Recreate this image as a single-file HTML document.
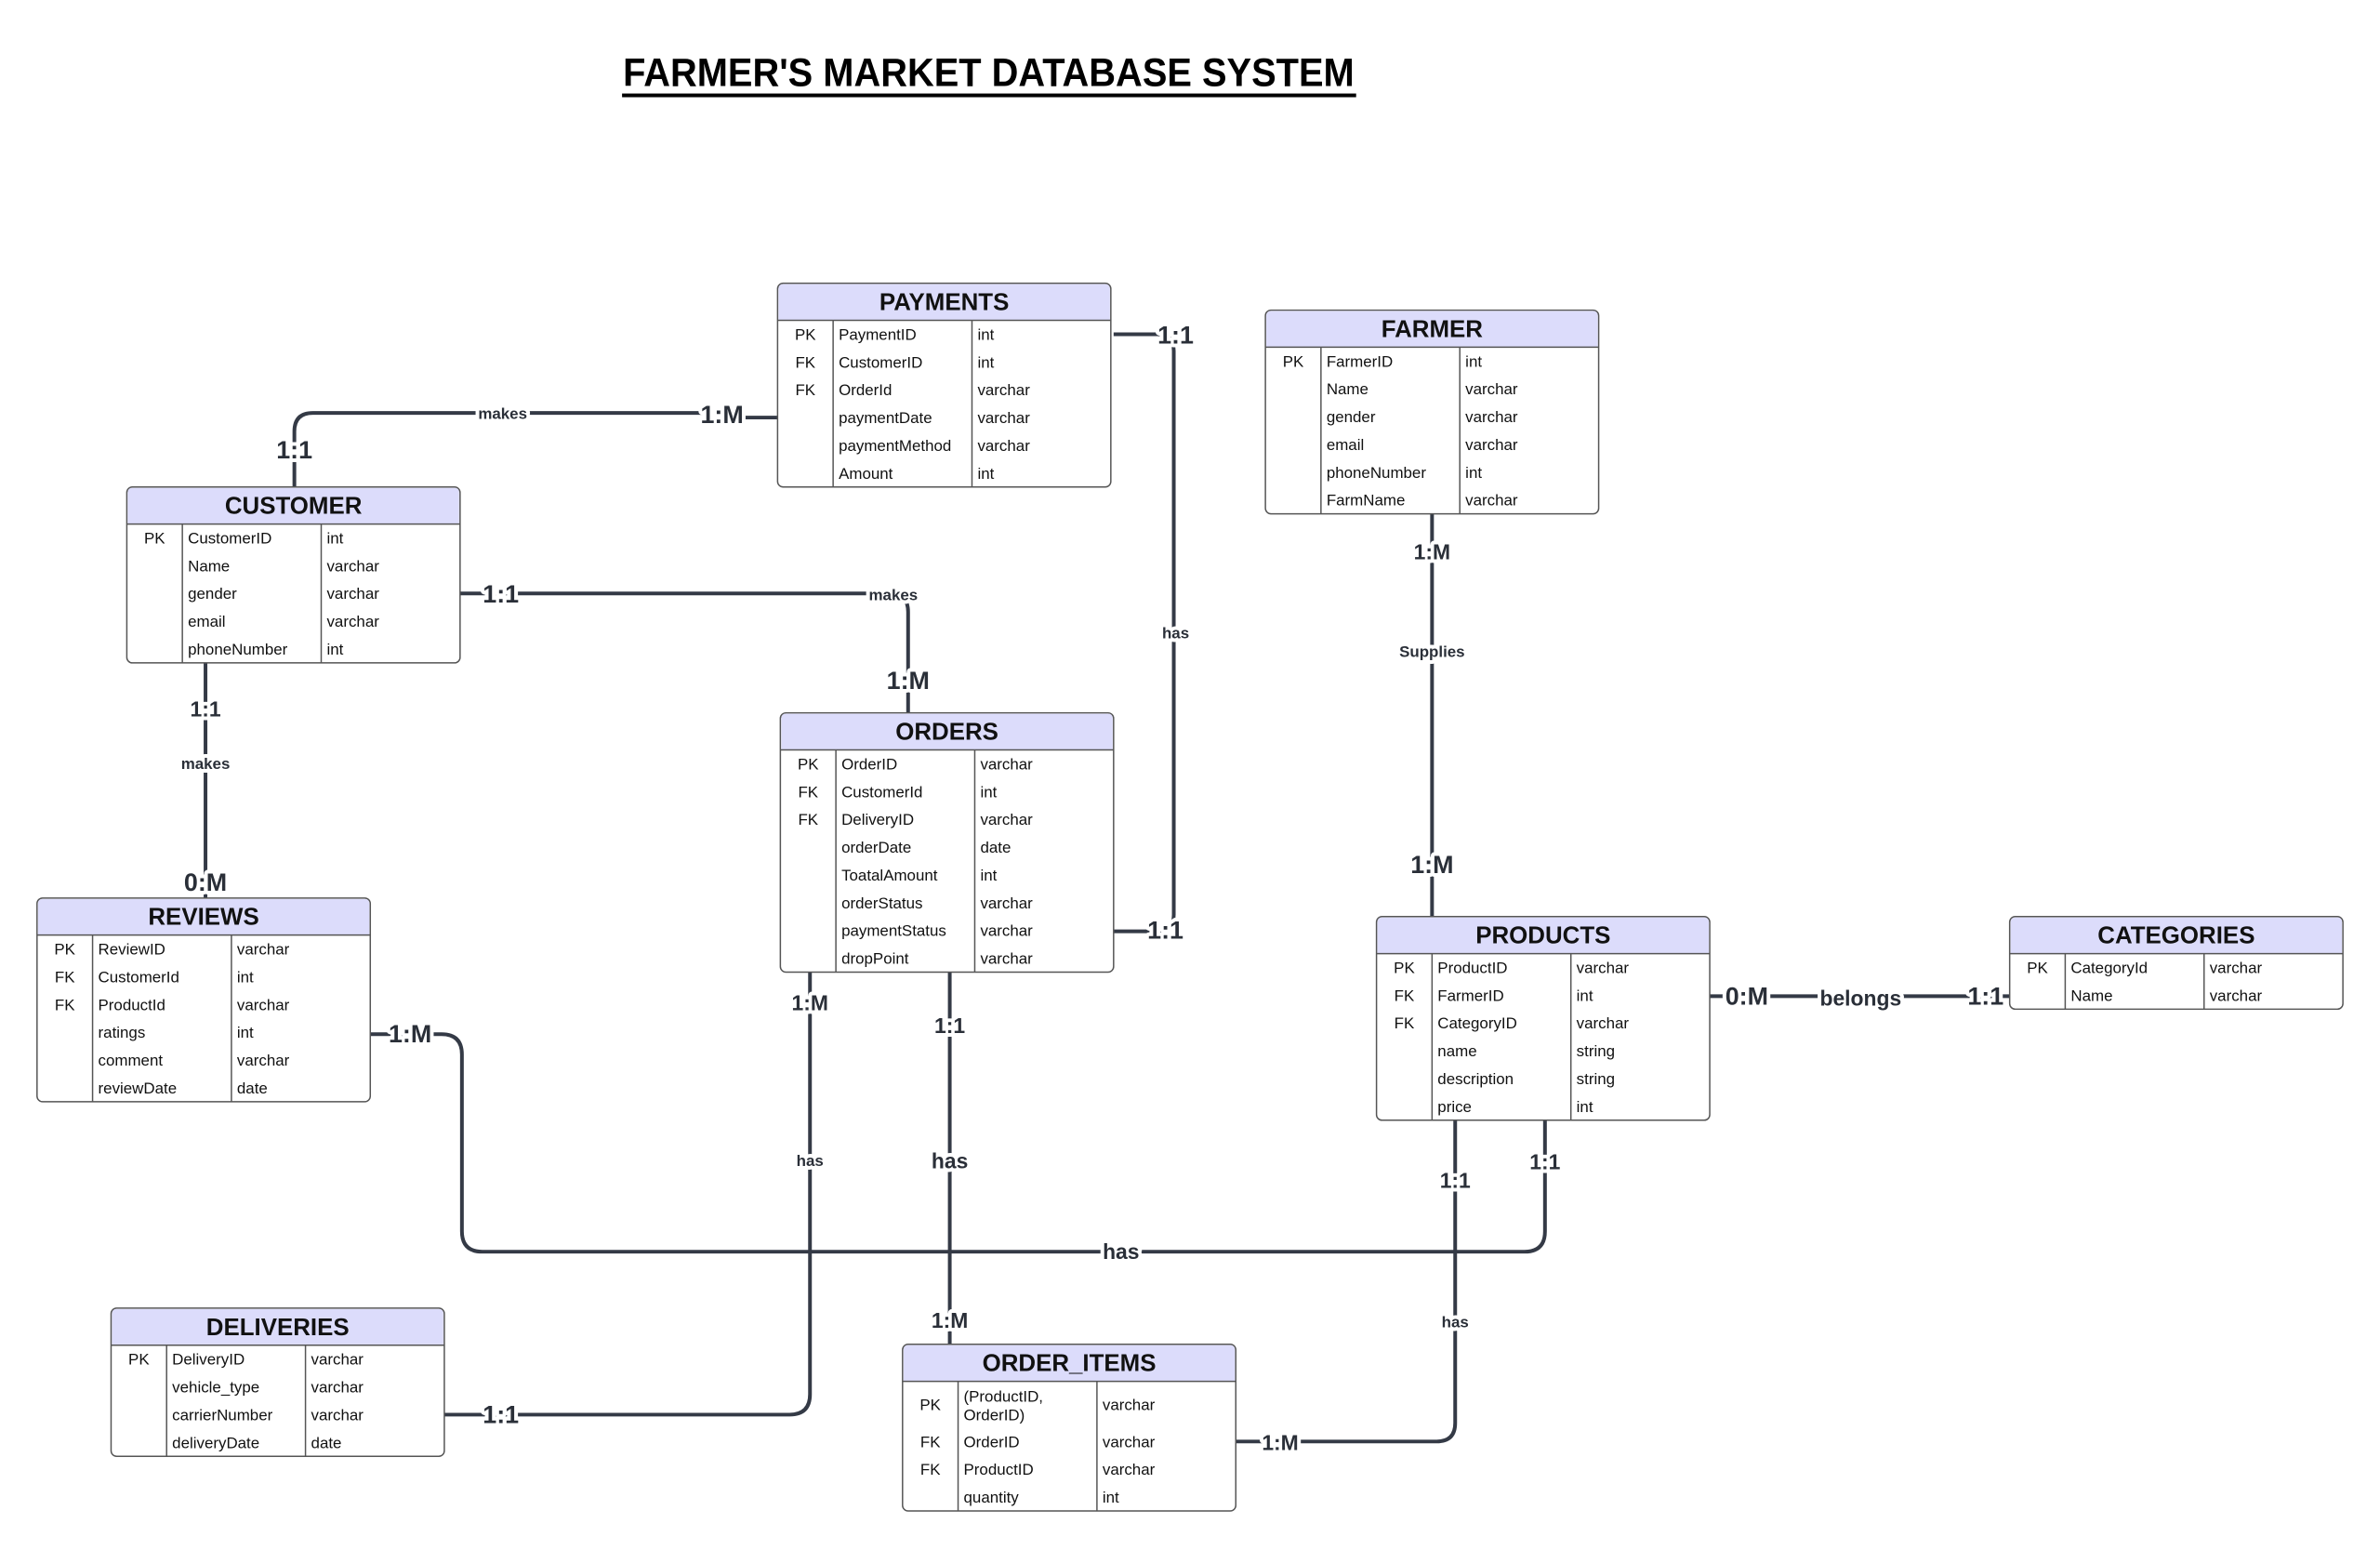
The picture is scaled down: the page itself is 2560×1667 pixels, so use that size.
<!DOCTYPE html>
<html><head><meta charset="utf-8"><style>
html,body{margin:0;padding:0;background:#fff;}
svg{display:block;font-family:"Liberation Sans",Arial,sans-serif;}
.ent rect.box{fill:#fff;stroke:#555;stroke-width:1.5;}
.hd{fill:#dcdcfb;}
.ht{font-size:26px;font-weight:bold;fill:#111;text-anchor:middle;}
.rt{font-size:17px;fill:#111;}
.k{text-anchor:middle;}
.ln{stroke:#555;stroke-width:1.5;fill:none;}
.c{stroke:#343a46;stroke-width:4;fill:none;}
.lb{font-weight:bold;fill:#2a2f38;text-anchor:middle;dominant-baseline:central;paint-order:stroke;stroke:#fff;stroke-width:8px;stroke-linejoin:round;}
.big{font-size:27px;}
.sm{font-size:17px;}
.md{font-size:23px;}
</style></head><body>
<svg width="2560" height="1667" viewBox="0 0 2560 1667" xmlns="http://www.w3.org/2000/svg">
<g transform="scale(0.9957)">
<text x="1068" y="93" font-size="43" font-weight="bold" text-anchor="middle" textLength="790" lengthAdjust="spacingAndGlyphs" fill="#000">FARMER'S MARKET DATABASE SYSTEM</text>
<rect x="672" y="101" width="793" height="4" fill="#000"/>

<!-- connectors -->
<path class="c" d="M840,451 H805 Q800,451 800,446 H338 Q318,446 318,466 V526"/>
<path class="c" d="M497,641 H961 Q981,641 981,661 V770"/>
<path class="c" d="M1203,361 H1250 Q1268,361 1268,379 V988 Q1268,1006 1250,1006 H1203"/>
<path class="c" d="M222,716 V970"/>
<path class="c" d="M1547,555 V990"/>
<path class="c" d="M1847,1076 H2171"/>
<path class="c" d="M400,1117 H477 Q499,1117 499,1139 V1330 Q499,1352 521,1352 H1647 Q1669,1352 1669,1330 V1210"/>
<path class="c" d="M875,1050 V1506 Q875,1528 853,1528 H480"/>
<path class="c" d="M1026,1050 V1452"/>
<path class="c" d="M1572,1210 V1537 Q1572,1557 1552,1557 H1335"/>

<!-- labels -->
<text class="lb sm" x="543" y="447">makes</text>
<text class="lb big" x="780" y="448">1:M</text>
<text class="lb big" x="318" y="486">1:1</text>
<text class="lb big" x="541" y="642">1:1</text>
<text class="lb sm" x="965" y="643">makes</text>
<text class="lb big" x="981" y="735">1:M</text>
<text class="lb big" x="1270" y="362">1:1</text>
<text class="lb sm" x="1270" y="684">has</text>
<text class="lb big" x="1259" y="1005">1:1</text>
<text class="lb md" x="222" y="766">1:1</text>
<text class="lb sm" x="222" y="825">makes</text>
<text class="lb big" x="222" y="953">0:M</text>
<text class="lb md" x="1547" y="596">1:M</text>
<text class="lb sm" x="1547" y="704">Supplies</text>
<text class="lb big" x="1547" y="934">1:M</text>
<text class="lb big" x="1887" y="1076">0:M</text>
<text class="lb md" x="2010" y="1078">belongs</text>
<text class="lb big" x="2145" y="1076">1:1</text>
<text class="lb big" x="443" y="1117">1:M</text>
<text class="lb md" x="1211" y="1352">has</text>
<text class="lb md" x="1669" y="1255">1:1</text>
<text class="lb md" x="875" y="1083">1:M</text>
<text class="lb sm" x="875" y="1254">has</text>
<text class="lb big" x="541" y="1528">1:1</text>
<text class="lb md" x="1026" y="1108">1:1</text>
<text class="lb md" x="1026" y="1254">has</text>
<text class="lb md" x="1026" y="1426">1:M</text>
<text class="lb md" x="1572" y="1275">1:1</text>
<text class="lb sm" x="1572" y="1428">has</text>
<text class="lb md" x="1383" y="1558">1:M</text>

<!-- PAYMENTS -->
<g class="ent" transform="translate(840,306)">
<rect class="box" x="0" y="0" width="360" height="220" rx="6"/>
<path class="hd" d="M6,1 H354 Q359,1 359,6 V40 H1 V6 Q1,1 6,1Z"/>
<line class="ln" x1="0" y1="40" x2="360" y2="40"/><line class="ln" x1="60" y1="40" x2="60" y2="220"/><line class="ln" x1="210" y1="40" x2="210" y2="220"/>
<text class="ht" x="180" y="29">PAYMENTS</text>
<g class="rt"><text class="k" x="30" y="61">PK</text><text x="66" y="61">PaymentID</text><text x="216" y="61">int</text>
<text class="k" x="30" y="91">FK</text><text x="66" y="91">CustomerID</text><text x="216" y="91">int</text>
<text class="k" x="30" y="121">FK</text><text x="66" y="121">OrderId</text><text x="216" y="121">varchar</text>
<text x="66" y="151">paymentDate</text><text x="216" y="151">varchar</text>
<text x="66" y="181">paymentMethod</text><text x="216" y="181">varchar</text>
<text x="66" y="211">Amount</text><text x="216" y="211">int</text></g>
</g>

<!-- CUSTOMER -->
<g class="ent" transform="translate(137,526)">
<rect class="box" x="0" y="0" width="360" height="190" rx="6"/>
<path class="hd" d="M6,1 H354 Q359,1 359,6 V40 H1 V6 Q1,1 6,1Z"/>
<line class="ln" x1="0" y1="40" x2="360" y2="40"/><line class="ln" x1="60" y1="40" x2="60" y2="190"/><line class="ln" x1="210" y1="40" x2="210" y2="190"/>
<text class="ht" x="180" y="29">CUSTOMER</text>
<g class="rt"><text class="k" x="30" y="61">PK</text><text x="66" y="61">CustomerID</text><text x="216" y="61">int</text>
<text x="66" y="91">Name</text><text x="216" y="91">varchar</text>
<text x="66" y="121">gender</text><text x="216" y="121">varchar</text>
<text x="66" y="151">email</text><text x="216" y="151">varchar</text>
<text x="66" y="181">phoneNumber</text><text x="216" y="181">int</text></g>
</g>

<!-- FARMER -->
<g class="ent" transform="translate(1367,335)">
<rect class="box" x="0" y="0" width="360" height="220" rx="6"/>
<path class="hd" d="M6,1 H354 Q359,1 359,6 V40 H1 V6 Q1,1 6,1Z"/>
<line class="ln" x1="0" y1="40" x2="360" y2="40"/><line class="ln" x1="60" y1="40" x2="60" y2="220"/><line class="ln" x1="210" y1="40" x2="210" y2="220"/>
<text class="ht" x="180" y="29">FARMER</text>
<g class="rt"><text class="k" x="30" y="61">PK</text><text x="66" y="61">FarmerID</text><text x="216" y="61">int</text>
<text x="66" y="91">Name</text><text x="216" y="91">varchar</text>
<text x="66" y="121">gender</text><text x="216" y="121">varchar</text>
<text x="66" y="151">email</text><text x="216" y="151">varchar</text>
<text x="66" y="181">phoneNumber</text><text x="216" y="181">int</text>
<text x="66" y="211">FarmName</text><text x="216" y="211">varchar</text></g>
</g>

<!-- ORDERS -->
<g class="ent" transform="translate(843,770)">
<rect class="box" x="0" y="0" width="360" height="280" rx="6"/>
<path class="hd" d="M6,1 H354 Q359,1 359,6 V40 H1 V6 Q1,1 6,1Z"/>
<line class="ln" x1="0" y1="40" x2="360" y2="40"/><line class="ln" x1="60" y1="40" x2="60" y2="280"/><line class="ln" x1="210" y1="40" x2="210" y2="280"/>
<text class="ht" x="180" y="29">ORDERS</text>
<g class="rt"><text class="k" x="30" y="61">PK</text><text x="66" y="61">OrderID</text><text x="216" y="61">varchar</text>
<text class="k" x="30" y="91">FK</text><text x="66" y="91">CustomerId</text><text x="216" y="91">int</text>
<text class="k" x="30" y="121">FK</text><text x="66" y="121">DeliveryID</text><text x="216" y="121">varchar</text>
<text x="66" y="151">orderDate</text><text x="216" y="151">date</text>
<text x="66" y="181">ToatalAmount</text><text x="216" y="181">int</text>
<text x="66" y="211">orderStatus</text><text x="216" y="211">varchar</text>
<text x="66" y="241">paymentStatus</text><text x="216" y="241">varchar</text>
<text x="66" y="271">dropPoint</text><text x="216" y="271">varchar</text></g>
</g>

<!-- REVIEWS -->
<g class="ent" transform="translate(40,970)">
<rect class="box" x="0" y="0" width="360" height="220" rx="6"/>
<path class="hd" d="M6,1 H354 Q359,1 359,6 V40 H1 V6 Q1,1 6,1Z"/>
<line class="ln" x1="0" y1="40" x2="360" y2="40"/><line class="ln" x1="60" y1="40" x2="60" y2="220"/><line class="ln" x1="210" y1="40" x2="210" y2="220"/>
<text class="ht" x="180" y="29">REVIEWS</text>
<g class="rt"><text class="k" x="30" y="61">PK</text><text x="66" y="61">ReviewID</text><text x="216" y="61">varchar</text>
<text class="k" x="30" y="91">FK</text><text x="66" y="91">CustomerId</text><text x="216" y="91">int</text>
<text class="k" x="30" y="121">FK</text><text x="66" y="121">ProductId</text><text x="216" y="121">varchar</text>
<text x="66" y="151">ratings</text><text x="216" y="151">int</text>
<text x="66" y="181">comment</text><text x="216" y="181">varchar</text>
<text x="66" y="211">reviewDate</text><text x="216" y="211">date</text></g>
</g>

<!-- PRODUCTS -->
<g class="ent" transform="translate(1487,990)">
<rect class="box" x="0" y="0" width="360" height="220" rx="6"/>
<path class="hd" d="M6,1 H354 Q359,1 359,6 V40 H1 V6 Q1,1 6,1Z"/>
<line class="ln" x1="0" y1="40" x2="360" y2="40"/><line class="ln" x1="60" y1="40" x2="60" y2="220"/><line class="ln" x1="210" y1="40" x2="210" y2="220"/>
<text class="ht" x="180" y="29">PRODUCTS</text>
<g class="rt"><text class="k" x="30" y="61">PK</text><text x="66" y="61">ProductID</text><text x="216" y="61">varchar</text>
<text class="k" x="30" y="91">FK</text><text x="66" y="91">FarmerID</text><text x="216" y="91">int</text>
<text class="k" x="30" y="121">FK</text><text x="66" y="121">CategoryID</text><text x="216" y="121">varchar</text>
<text x="66" y="151">name</text><text x="216" y="151">string</text>
<text x="66" y="181">description</text><text x="216" y="181">string</text>
<text x="66" y="211">price</text><text x="216" y="211">int</text></g>
</g>

<!-- CATEGORIES -->
<g class="ent" transform="translate(2171,990)">
<rect class="box" x="0" y="0" width="360" height="100" rx="6"/>
<path class="hd" d="M6,1 H354 Q359,1 359,6 V40 H1 V6 Q1,1 6,1Z"/>
<line class="ln" x1="0" y1="40" x2="360" y2="40"/><line class="ln" x1="60" y1="40" x2="60" y2="100"/><line class="ln" x1="210" y1="40" x2="210" y2="100"/>
<text class="ht" x="180" y="29">CATEGORIES</text>
<g class="rt"><text class="k" x="30" y="61">PK</text><text x="66" y="61">CategoryId</text><text x="216" y="61">varchar</text>
<text x="66" y="91">Name</text><text x="216" y="91">varchar</text></g>
</g>

<!-- DELIVERIES -->
<g class="ent" transform="translate(120,1413)">
<rect class="box" x="0" y="0" width="360" height="160" rx="6"/>
<path class="hd" d="M6,1 H354 Q359,1 359,6 V40 H1 V6 Q1,1 6,1Z"/>
<line class="ln" x1="0" y1="40" x2="360" y2="40"/><line class="ln" x1="60" y1="40" x2="60" y2="160"/><line class="ln" x1="210" y1="40" x2="210" y2="160"/>
<text class="ht" x="180" y="29">DELIVERIES</text>
<g class="rt"><text class="k" x="30" y="61">PK</text><text x="66" y="61">DeliveryID</text><text x="216" y="61">varchar</text>
<text x="66" y="91">vehicle_type</text><text x="216" y="91">varchar</text>
<text x="66" y="121">carrierNumber</text><text x="216" y="121">varchar</text>
<text x="66" y="151">deliveryDate</text><text x="216" y="151">date</text></g>
</g>

<!-- ORDER_ITEMS -->
<g class="ent" transform="translate(975,1452)">
<rect class="box" x="0" y="0" width="360" height="180" rx="6"/>
<path class="hd" d="M6,1 H354 Q359,1 359,6 V40 H1 V6 Q1,1 6,1Z"/>
<line class="ln" x1="0" y1="40" x2="360" y2="40"/><line class="ln" x1="60" y1="40" x2="60" y2="180"/><line class="ln" x1="210" y1="40" x2="210" y2="180"/>
<text class="ht" x="180" y="29">ORDER_ITEMS</text>
<g class="rt"><text class="k" x="30" y="71">PK</text><text x="66" y="62">(ProductID,</text><text x="66" y="82">OrderID)</text><text x="216" y="71">varchar</text>
<text class="k" x="30" y="111">FK</text><text x="66" y="111">OrderID</text><text x="216" y="111">varchar</text>
<text class="k" x="30" y="141">FK</text><text x="66" y="141">ProductID</text><text x="216" y="141">varchar</text>
<text x="66" y="171">quantity</text><text x="216" y="171">int</text></g>
</g>
</g>
</svg>
</body></html>
